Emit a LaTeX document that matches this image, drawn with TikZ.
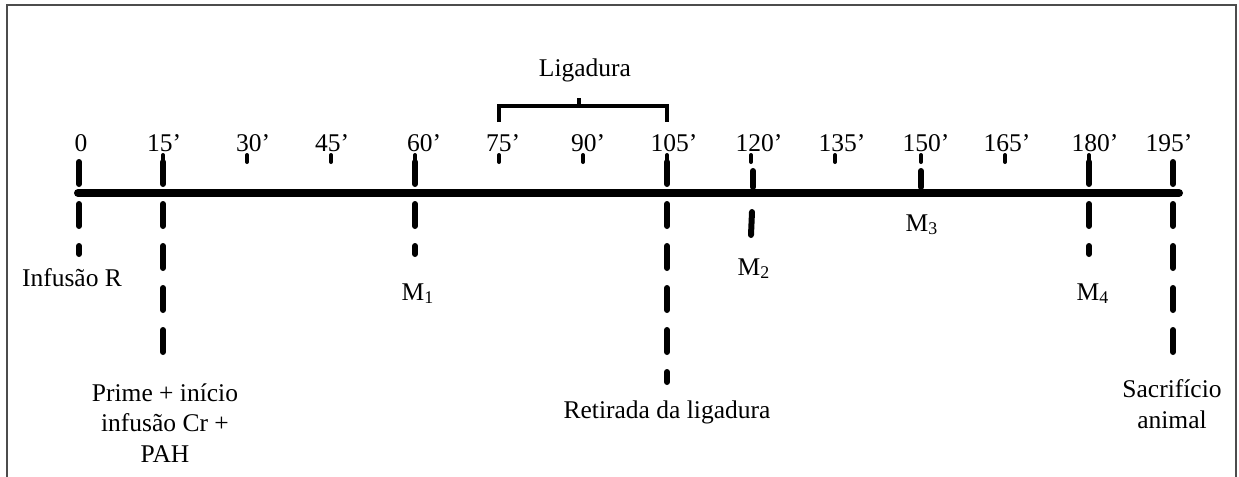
\documentclass[tikz,border=0pt]{standalone}
\usepackage{fontspec}
\setmainfont{Liberation Serif}
\begin{document}
\begin{tikzpicture}[x=0.5pt,y=-0.5pt,
  lbl/.style={font=\fontsize{12.75pt}{15.25pt}\selectfont, inner sep=0pt, anchor=base, align=center},
  mainline/.style={line width=4pt, line cap=round},
  minortick/.style={line width=2pt, line cap=round},
  majortick/.style={line width=3pt, line cap=round},
  dashtick/.style={majortick, dash pattern=on 11pt off 10pt},
  brace/.style={line width=1.75pt}]
\useasboundingbox (0,0) rectangle (1239,477);
% frame (open at the bottom, as cut in the reference)
\draw[line width=1pt, gray!60!black] (7,477) -- (7,5) -- (1236,5) -- (1236,477);
% main time line
\coordinate (tstart) at (78,193);
\coordinate (tend) at (1179,193);
\draw[mainline] (tstart) -- (tend);
% small ticks
\foreach \x in {163,247,331,415,499,583,667,751,835,921,1005,1089}
  \draw[minortick] (\x,155) -- (\x,162);
% dashed major marks
\foreach \x/\yend in {79/254,163/352,415/254,667/382,1089/254,1173/352}
  \draw[dashtick] (\x,162) -- (\x,\yend);
% M2 and M3 marks
\draw[majortick] (753,171) -- (753,187);
\draw[majortick] (752,212) -- (751,235);
\draw[majortick] (921,171) -- (921,187);
% tick labels
\foreach \x/\t [count=\i] in {81/0,164/15’,253/30’,332/45’,424/60’,503/75’,588/90’,674/105’,759/120’,842/135’,926/150’,1007/165’,1095/180’,1169/195’}
  \node[lbl] (t\i) at (\x,151) {\t};
% Ligadura bracket
\coordinate (bl) at (499,122);
\coordinate (br) at (667,122);
\draw[brace] (bl) -- (499,106) -- (667,106) -- (br);
\draw[brace] (579,106) -- (579,98);
\node[lbl] (lig) at (585,76) {Ligadura};
% lower labels
\node[lbl] (infR) at (72,286) {Infusão R};
\node[lbl] (prime) at (165,462) {Prime + início\\infusão Cr +\\PAH};
\node[lbl] (m1) at (418,300) {M\textsubscript{1}};
\node[lbl] (m2) at (754,275) {M\textsubscript{2}};
\node[lbl] (m3) at (922,231) {M\textsubscript{3}};
\node[lbl] (m4) at (1093,300) {M\textsubscript{4}};
\node[lbl] (ret) at (667,418) {Retirada da ligadura};
\node[lbl] (sac) at (1172,428) {Sacrifício\\animal};
\end{tikzpicture}
\end{document}
